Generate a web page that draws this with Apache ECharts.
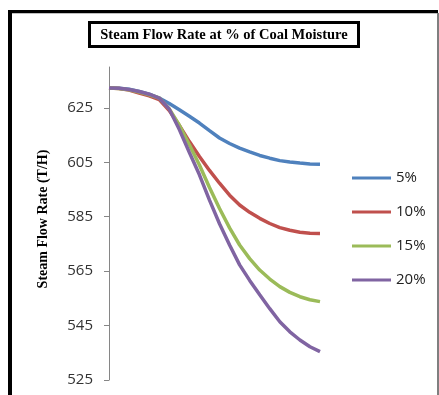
<!DOCTYPE html>
<html>
<head>
<meta charset="utf-8">
<script src="https://cdn.jsdelivr.net/npm/echarts@6/dist/echarts.min.js"></script>
<style>
html,body{margin:0;padding:0;background:#fff;}
#chart{width:439px;height:395px;}
</style>
</head>
<body>
<div id="chart"></div>
<script>
// Time steps (x positions, unlabeled in the reference)
const timeSteps = ['0','1','2','3','4','5','6','7','8','9','10','11','12','13','14','15','16','17','18','19','20','21'];

// Series values (T/H)
const moisture5  = [632.3,632.2,631.8,631.0,630.0,628.6,626.6,624.3,621.9,619.4,616.6,613.9,611.9,610.2,608.8,607.5,606.5,605.6,605.1,604.7,604.4,604.3];
const moisture10 = [632.3,632.1,631.5,630.4,629.4,628.0,624.0,618.5,612.6,607.1,602.0,597.3,592.9,589.3,586.6,584.4,582.5,581.0,580.0,579.3,578.9,578.8];
const moisture15 = [632.3,632.1,631.6,630.8,629.8,628.6,624.6,618.6,611.4,604.0,595.7,588.0,580.9,574.6,569.6,565.4,562.1,559.3,557.2,555.6,554.5,553.8];
const moisture20 = [632.3,632.2,631.7,631.0,630.0,628.6,624.5,617.0,608.6,600.4,591.1,582.4,574.6,567.3,561.6,556.3,551.2,546.4,542.7,539.7,537.2,535.4];

const seriesNames = ['5%','10%','15%','20%'];
const yTickValues = [525,545,565,585,605,625];

const titleText = 'Steam Flow Rate at % of Coal Moisture';
const yAxisTitle = 'Steam Flow Rate (T/H)';

const colors = ['#4F81BD','#C0504D','#9BBB59','#8064A2'];
const seriesData = [moisture5, moisture10, moisture15, moisture20];

const chart = echarts.init(document.getElementById('chart'), null, {renderer:'canvas'});

const option = {
  animation: false,
  backgroundColor: '#ffffff',
  color: colors,
  grid: { left: 109, right: 119, top: 67, bottom: 15, containLabel: false },
  xAxis: {
    type: 'category',
    data: timeSteps,
    boundaryGap: false,
    show: false
  },
  yAxis: {
    type: 'value',
    min: 525,
    max: 640,
    interval: 20,
    axisLine: { show: true, lineStyle: { color: '#868686', width: 1 } },
    axisTick: { show: true, length: 5, lineStyle: { color: '#868686' }, customValues: yTickValues },
    axisLabel: {
      color: '#333333',
      fontFamily: 'Open Sans',
      fontSize: 15,
      margin: 16,
      customValues: yTickValues
    },
    splitLine: { show: false }
  },
  legend: {
    orient: 'vertical',
    left: 347,
    top: 164,
    icon: 'rect',
    itemWidth: 39,
    itemHeight: 3,
    itemGap: 16,
    textStyle: { color: '#222222', fontFamily: 'Open Sans', fontSize: 15, lineHeight: 18, padding: [0,0,0,0] },
    data: seriesNames
  },
  series: seriesNames.map((name, i) => ({
    name: name,
    type: 'line',
    data: seriesData[i],
    showSymbol: false,
    symbol: 'none',
    lineStyle: { width: 3.5, color: colors[i] },
    itemStyle: { color: colors[i] }
  })),
  graphic: [
    { type: 'line', shape: { x1: 10, y1: 10, x2: 10, y2: 395 }, style: { stroke: '#000', lineWidth: 4 } },
    { type: 'line', shape: { x1: 8, y1: 11.7, x2: 438, y2: 11.7 }, style: { stroke: '#000', lineWidth: 3.3 } },
    { type: 'line', shape: { x1: 438, y1: 13, x2: 438, y2: 395 }, style: { stroke: '#7f7f7f', lineWidth: 2 } },
    { type: 'rect', shape: { x: 89.5, y: 22.5, width: 269, height: 24 }, style: { fill: '#fff', stroke: '#000', lineWidth: 3 } },
    { type: 'text', x: 224, y: 35, style: { text: titleText, fontFamily: 'Liberation Serif', fontWeight: 'bold', fontSize: 14.5, fill: '#000', align: 'center', verticalAlign: 'middle' } },
    { type: 'text', x: 43, y: 219, rotation: Math.PI / 2, style: { text: yAxisTitle, fontFamily: 'Liberation Serif', fontWeight: 'bold', fontSize: 14, fill: '#000', align: 'center', verticalAlign: 'middle' } }
  ]
};

chart.setOption(option);
</script>
</body>
</html>
